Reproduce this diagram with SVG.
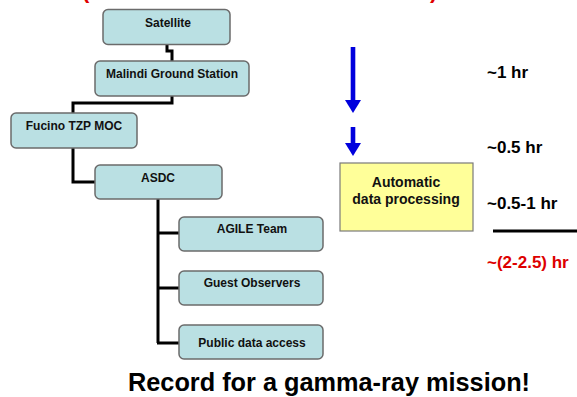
<svg xmlns="http://www.w3.org/2000/svg" width="577" height="397" viewBox="0 0 577 397">
<style>
.box{fill:#bae0e3;stroke:#6b6b6b;stroke-width:1.5}
.lbl{font-family:"Liberation Sans",Arial,sans-serif;font-weight:bold;font-size:12px;fill:#111;text-anchor:middle}
.conn{fill:none;stroke:#000;stroke-width:3}
.time{font-family:"Liberation Sans",Arial,sans-serif;font-weight:bold;font-size:17px;fill:#000}
.blue{fill:#0000dd}
</style>
<rect width="577" height="397" fill="#fff"/>
<text x="82" y="-2" font-family="Liberation Sans, Arial, sans-serif" font-weight="bold" font-size="22" fill="#e00000">(</text>
<text x="430" y="-2" font-family="Liberation Sans, Arial, sans-serif" font-weight="bold" font-size="22" fill="#e00000">)</text>
<g id="connectors">
<path class="conn" d="M167,44 V51 H172 V61"/>
<path class="conn" d="M172,96 V103 H73 V113"/>
<path class="conn" d="M73,148 V182 H95"/>
<path class="conn" d="M158,199 V343"/>
<path class="conn" d="M157,233 H179 M157,288 H179 M157,343 H179"/>
</g>
<g id="satellite"><rect class="box" x="103" y="9.5" width="127" height="35" rx="5"/><text class="lbl" x="168" y="27">Satellite</text></g>
<g id="malindi"><rect class="box" x="95" y="61" width="154" height="35" rx="5"/><text class="lbl" x="172" y="78">Malindi Ground Station</text></g>
<g id="fucino"><rect class="box" x="11" y="113" width="126" height="35" rx="5"/><text class="lbl" x="74" y="130">Fucino TZP MOC</text></g>
<g id="asdc"><rect class="box" x="95" y="165" width="127" height="34" rx="5"/><text class="lbl" x="158" y="182">ASDC</text></g>
<g id="agile"><rect class="box" x="179" y="217" width="144" height="34" rx="5"/><text class="lbl" x="252" y="233">AGILE Team</text></g>
<g id="guest"><rect class="box" x="179" y="271" width="144" height="34" rx="5"/><text class="lbl" x="252" y="287">Guest Observers</text></g>
<g id="public"><rect class="box" x="179" y="325" width="144" height="34" rx="5"/><text class="lbl" x="252" y="347">Public data access</text></g>
<g id="arrow1"><rect class="blue" x="350.7" y="47" width="4.6" height="54"/><polygon class="blue" points="345,100 361,100 353,113"/></g>
<g id="arrow2"><rect class="blue" x="350.7" y="127" width="4.6" height="17"/><polygon class="blue" points="345,143 361,143 353,156"/></g>
<g id="processing"><rect x="340" y="163" width="133" height="68" fill="#ffff99" stroke="#7a7a7a" stroke-width="1.2"/>
<text x="406" y="187" font-family="Liberation Sans, Arial, sans-serif" font-weight="bold" font-size="14" fill="#111" text-anchor="middle">Automatic</text>
<text x="406" y="204" font-family="Liberation Sans, Arial, sans-serif" font-weight="bold" font-size="14" fill="#111" text-anchor="middle">data processing</text></g>
<text class="time" x="487" y="78">~1 hr</text>
<text class="time" x="487" y="153">~0.5 hr</text>
<text class="time" x="487" y="209">~0.5-1 hr</text>
<line x1="493" y1="231" x2="577" y2="231" stroke="#000" stroke-width="3"/>
<text class="time" x="487" y="268" fill="#dd0000" style="fill:#dd0000">~(2-2.5) hr</text>
<text x="329" y="391" font-family="Liberation Sans, Arial, sans-serif" font-weight="bold" font-size="25.3" fill="#000" text-anchor="middle">Record for a gamma-ray mission!</text>
</svg>
